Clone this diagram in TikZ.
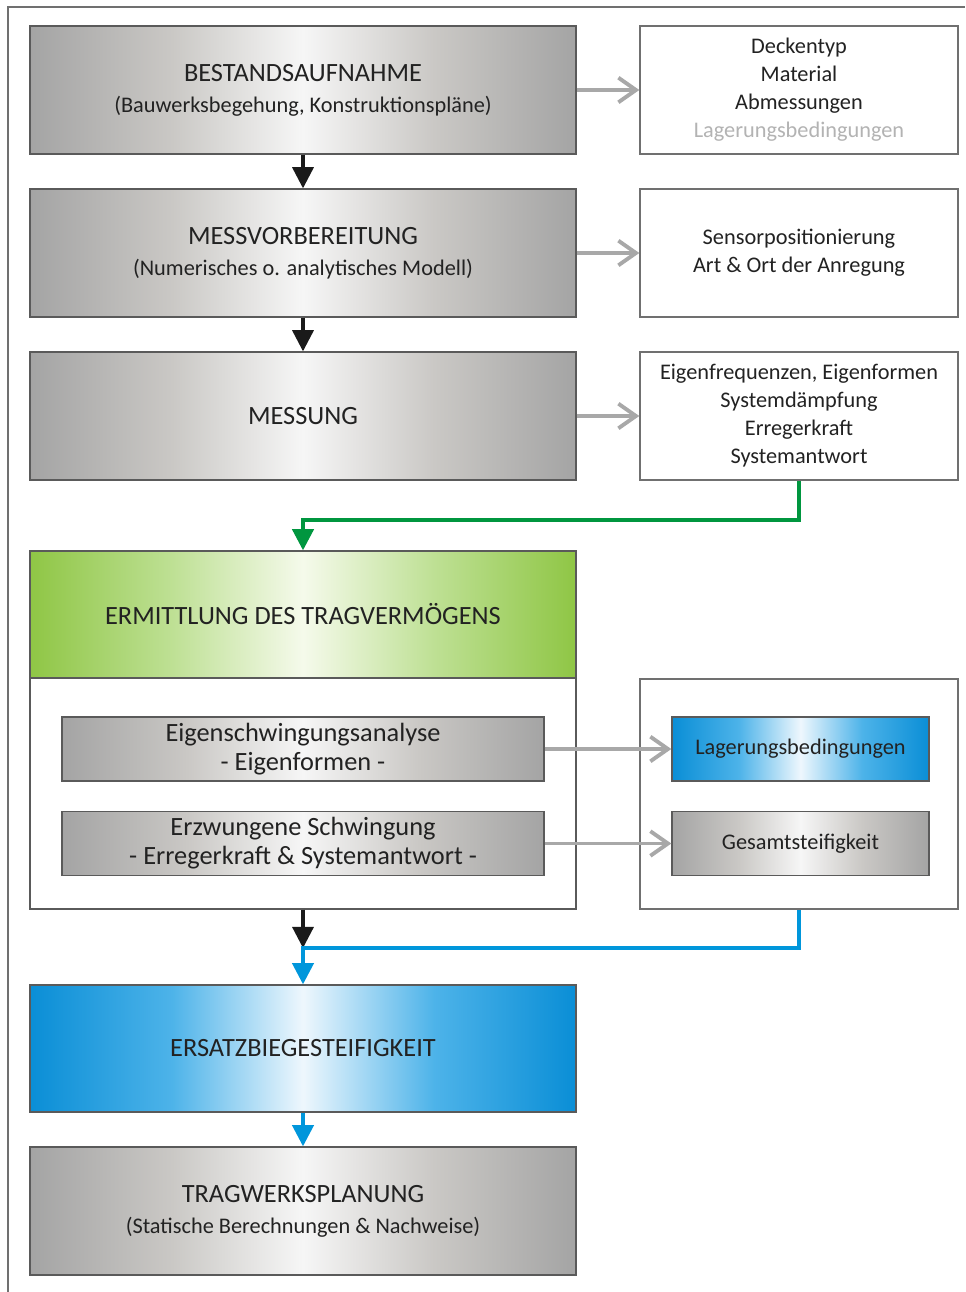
\documentclass[tikz,border=0pt]{standalone}
\usepackage{fontspec}
\setmainfont{Carlito}
\usepackage[HTML]{xcolor}
\usepackage{tikz}
\usetikzlibrary{positioning, arrows, arrows.meta}

\definecolor{grayedge}{HTML}{A4A4A4}
\definecolor{graymid}{HTML}{CAC8C5}
\definecolor{graycen}{HTML}{F6F6F6}
\definecolor{greenedge}{HTML}{8FC645}
\definecolor{greenmid}{HTML}{BEE094}
\definecolor{greencen}{HTML}{F5FAEB}
\definecolor{blueedge}{HTML}{0A8ED6}
\definecolor{bluemid}{HTML}{4DB3E9}
\definecolor{bluecen}{HTML}{EEF7FD}
\definecolor{boxline}{HTML}{5A5A5A}
\definecolor{lightline}{HTML}{707070}
\definecolor{textcol}{HTML}{222222}
\definecolor{fadedtext}{HTML}{B3B3B3}
\definecolor{arrowgray}{HTML}{A8A8A8}
\definecolor{flowgreen}{HTML}{00963F}
\definecolor{flowblue}{HTML}{0096DB}

\pgfdeclarehorizontalshading{grayshade}{100bp}{color(0bp)=(grayedge); color(25bp)=(grayedge); color(38bp)=(graymid); color(50bp)=(graycen); color(62bp)=(graymid); color(75bp)=(grayedge); color(100bp)=(grayedge)}
\pgfdeclarehorizontalshading{greenshade}{100bp}{color(0bp)=(greenedge); color(25bp)=(greenedge); color(38bp)=(greenmid); color(50bp)=(greencen); color(62bp)=(greenmid); color(75bp)=(greenedge); color(100bp)=(greenedge)}
\pgfdeclarehorizontalshading{blueshade}{100bp}{color(0bp)=(blueedge); color(25bp)=(blueedge); color(38bp)=(bluemid); color(50bp)=(bluecen); color(62bp)=(bluemid); color(75bp)=(blueedge); color(100bp)=(blueedge)}

\newcommand{\headfont}{\fontsize{15}{17.6}\selectfont}

\tikzset{
  stage/.style={draw=boxline, line width=0.8pt, minimum width=10.92cm, minimum height=2.56cm,
    align=center, text=textcol, inner sep=0pt, font=\fontsize{12.7}{17.6}\selectfont},
  graystage/.style={stage, shade, shading=grayshade},
  greenstage/.style={stage, shade, shading=greenshade, minimum height=2.54cm},
  bluestage/.style={stage, shade, shading=blueshade, minimum height=2.54cm},
  infobox/.style={draw=lightline, line width=0.8pt, fill=white, minimum width=6.36cm, minimum height=2.56cm,
    align=center, text=textcol, inner sep=0pt, font=\fontsize{12.7}{15.9}\selectfont},
  subbox/.style={draw=boxline, line width=0.8pt, shade, shading=grayshade, minimum width=9.64cm,
    minimum height=1.28cm, align=center, text=textcol, inner sep=0pt, font=\fontsize{15}{16.4}\selectfont},
  resultbox/.style={draw=boxline, line width=0.8pt, minimum width=5.14cm, minimum height=1.28cm,
    align=center, text=textcol, inner sep=0pt, font=\fontsize{12.7}{15.9}\selectfont},
  downarrow/.style={line width=1.8pt, draw=black!90, -{Triangle[width=12pt, length=12pt]}},
  sidearrow/.style={line width=2.2pt, draw=arrowgray, -{Straight Barb[width=14pt, length=10pt]}},
  greenflow/.style={line width=2.2pt, draw=flowgreen, -{Triangle[width=12pt, length=12pt]}},
  blueflow/.style={line width=2pt, draw=flowblue, -{Triangle[width=12pt, length=12pt]}}
}

\begin{document}
\begin{tikzpicture}[x=0.02cm, y=-0.02cm]
\useasboundingbox (0,0) rectangle (965,1292);
\draw[line width=0.8pt, draw=lightline] (8,1292) -- (8,7) -- (965,7);

% linke Spalte
\node[graystage] (bestand) at (303,90) {{\headfont BESTANDSAUFNAHME}\\(Bauwerksbegehung, Konstruktionspläne)};
\node[graystage] (vorber) at (303,253) {{\headfont MESSVORBEREITUNG}\\(Numerisches o. analytisches Modell)};
\node[graystage] (messung) at (303,416) {\headfont MESSUNG};
\node[stage, fill=white, minimum height=7.16cm] (ermrahmen) at (303,730) {};
\node[greenstage] (ermittlung) at (303,614.5) {\headfont ERMITTLUNG DES TRAGVERMÖGENS};
\node[subbox] (eigen) at (303,749) {Eigenschwingungsanalyse\\- Eigenformen -};
\node[subbox] (erzw) at (303,843.5) {Erzwungene Schwingung\\- Erregerkraft \& Systemantwort -};
\node[bluestage] (ersatz) at (303,1048.5) {\headfont ERSATZBIEGESTEIFIGKEIT};
\node[graystage] (tragwerk) at (303,1211) {{\headfont TRAGWERKSPLANUNG}\\(Statische Berechnungen \& Nachweise)};

% rechte Spalte
\node[infobox] (decke) at (799,90) {Deckentyp\\Material\\Abmessungen\\\textcolor{fadedtext}{Lagerungsbedingungen}};
\node[infobox] (sensor) at (799,253) {Sensorpositionierung\\Art \& Ort der Anregung};
\node[infobox] (eigenfr) at (799,416) {Eigenfrequenzen, Eigenformen\\Systemdämpfung\\Erregerkraft\\Systemantwort};
\node[infobox, minimum height=4.6cm] (ergebnis) at (799,794) {};
\node[resultbox, shade, shading=blueshade] (lager) at (800.5,749) {Lagerungsbedingungen};
\node[resultbox, shade, shading=grayshade] (gesamt) at (800.5,843.5) {Gesamtsteifigkeit};

\coordinate (treffen) at (303,948);

\draw[downarrow] (bestand) -- (vorber);
\draw[downarrow] (vorber) -- (messung);
\draw[sidearrow] (bestand) -- (decke);
\draw[sidearrow] (vorber) -- (sensor);
\draw[sidearrow] (messung) -- (eigenfr);
\draw[sidearrow] (eigen) -- (lager);
\draw[sidearrow] (erzw) -- (gesamt);
\draw[greenflow] (eigenfr.south) -- ++(0,-0.78cm) -| (ermittlung.north);
\draw[downarrow] (ermrahmen.south) -- (treffen);
\draw[blueflow] (ergebnis.south) |- (treffen) -- (ersatz.north);
\draw[blueflow] (ersatz) -- (tragwerk);
\end{tikzpicture}
\end{document}
